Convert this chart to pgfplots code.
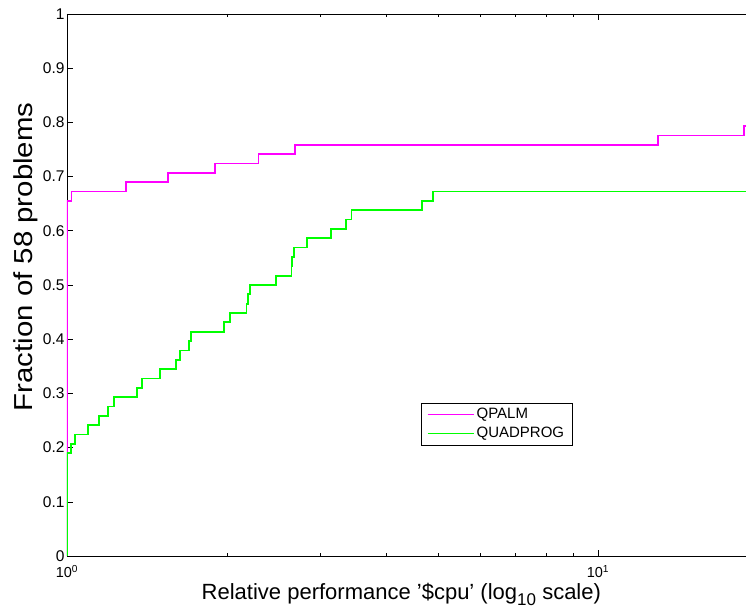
\documentclass[border=0pt]{standalone}
\usepackage{fontspec}
\setmainfont{Liberation Sans}
\usepackage{graphicx}
\usepackage{pgfplots}
\pgfplotsset{compat=1.18}
\definecolor{qpalm}{RGB}{255,0,255}
\definecolor{quadprog}{RGB}{0,255,0}
\pgfplotstableread{
x y
1 0
1 0.6552
1.02 0.6724
1.291 0.6897
1.551 0.7069
1.902 0.7241
2.295 0.7414
2.688 0.7586
12.99 0.7759
18.86 0.7931
20 0.7931
}\qpalm
\pgfplotstableread{
x y
1 0
1 0.1897
1.016 0.2069
1.035 0.2241
1.094 0.2414
1.150 0.2586
1.196 0.2759
1.224 0.2931
1.356 0.3103
1.386 0.3276
1.495 0.3448
1.602 0.3621
1.632 0.3793
1.699 0.3966
1.712 0.4138
1.977 0.4310
2.025 0.4483
2.178 0.4655
2.194 0.4828
2.211 0.5000
2.476 0.5172
2.647 0.5345
2.652 0.5517
2.680 0.5690
2.836 0.5862
3.144 0.6034
3.348 0.6207
3.435 0.6379
4.663 0.6552
4.887 0.6724
20 0.6724
}\quadprog
\begin{document}
\begin{tikzpicture}
\begin{axis}[
  scale only axis,
  width=690.8pt, height=542pt,
  xmode=log,
  xmin=1, xmax=20, ymin=0, ymax=1,
  axis line style={black, line width=0.8pt},
  xtick={1,10}, xticklabels={10\textsuperscript{0},10\textsuperscript{1}},
  minor xtick={2,3,4,5,6,7,8,9},
  ytick={0,0.1,0.2,0.3,0.4,0.5,0.6,0.7,0.8,0.9,1},
  yticklabels={0,0.1,0.2,0.3,0.4,0.5,0.6,0.7,0.8,0.9,1},
  tick align=inside,
  xtick pos=both, ytick pos=left,
  major tick length=6pt, minor tick length=3pt,
  tick style={black, line width=0.6pt},
  xticklabel style={font=\fontsize{14.5}{15}\selectfont, yshift=-6pt},
  yticklabel style={font=\fontsize{15.5}{16}\selectfont, xshift=1pt},
  /pgf/number format/assume math mode=true,
  xlabel={Relative performance '\$cpu' (log{\fontsize{17}{17}\selectfont\raisebox{-0.4em}{10}} scale)},
  ylabel={\scalebox{1.13}[1]{Fraction of 58 problems}},
  xlabel style={font=\fontsize{22}{24}\selectfont, at={(ticklabel cs:0.484)}, yshift=2pt},
  ylabel style={font=\fontsize{26}{28}\selectfont, at={(ticklabel cs:0.552)}, yshift=-2pt},
  legend style={at={(0.5123,0.2828)}, anchor=north west, draw=black, line width=0.6pt,
    font=\fontsize{15}{16}\selectfont, inner xsep=6pt, inner ysep=3pt,
    row sep=2pt, nodes={inner sep=2.5pt}},
  legend cell align=left,
  legend image code/.code={\path[draw=#1, line width=0.9pt] (0pt,0pt) -- (46pt,0pt);},
]
\addplot[const plot, color=qpalm, line width=1.8pt] table[x=x,y=y] {\qpalm};
\addlegendentry{QPALM}
\addplot[const plot, color=quadprog, line width=1.8pt] table[x=x,y=y] {\quadprog};
\addlegendentry{QUADPROG}
\end{axis}
\pgfresetboundingbox
\path ([shift={(-67pt,-54pt)}]current axis.south west) rectangle ([shift={(679pt,14pt)}]current axis.north west);
\end{tikzpicture}
\end{document}
